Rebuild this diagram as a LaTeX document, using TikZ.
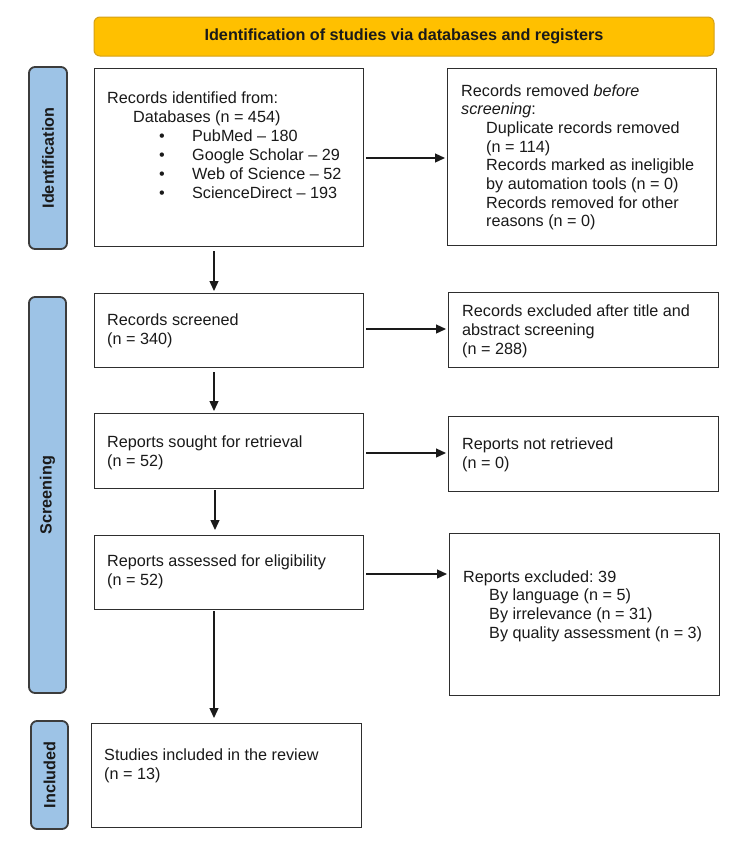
\documentclass[tikz,border=0pt]{standalone}
\usepackage{fontspec}
\setmainfont{Liberation Sans}
\usetikzlibrary{arrows.meta,calc}
\frenchspacing
\definecolor{hdrfill}{HTML}{FFC000}
\definecolor{hdrline}{HTML}{D4A017}
\definecolor{barfill}{HTML}{9DC3E6}
\definecolor{barline}{HTML}{3C3C3C}
\definecolor{boxline}{HTML}{2E2E2E}
\definecolor{ink}{HTML}{1A1A1A}
\newcommand{\tline}[1]{\hbox{#1}}
\newcommand{\tlines}[1]{\vtop{\baselineskip=19pt\lineskiplimit=-20pt\lineskip=0pt #1}}
\newcommand{\bul}[1]{\tline{\kern52pt\rlap{•}\kern33pt #1}}
\tikzset{
  box/.style={draw=boxline, line width=1.4pt, fill=white, inner sep=0pt, anchor=north west},
  bartag/.style={draw=barline, fill=barfill, line width=1.8pt, rounded corners=6pt, inner sep=0pt, rotate=90, text=ink, font=\bfseries\fontsize{16.2}{19}\selectfont},
  hdr/.style={draw=hdrline, fill=hdrfill, line width=1pt, rounded corners=6pt, inner sep=0pt, text=ink, font=\bfseries\fontsize{16.2}{19}\selectfont},
  txt/.style={anchor=base west, inner sep=0pt, font=\fontsize{16.2}{19}\selectfont\frenchspacing, text=ink},
  arr/.style={-{Triangle[length=10pt,width=9pt]}, line width=1.3pt, draw=ink}
}
\begin{document}
\begin{tikzpicture}[x=1pt,y=-1pt]
\useasboundingbox (0,0) rectangle (750,847);
% header
\node[hdr, minimum width=620pt, minimum height=39pt] (head) at (404,36.5) {Identification of studies via databases and registers};
% side bars
\node[bartag, minimum width=182pt, minimum height=38pt] (s1) at (48,158) {Identification};
\node[bartag, minimum width=396pt, minimum height=37pt] (s2) at (47.5,495) {Screening};
\node[bartag, minimum width=108pt, minimum height=37pt] (s3) at (49.5,775) {Included};
% boxes
\node[box, minimum width=269pt, minimum height=178pt] (b1) at (94,68) {};
\node[box, minimum width=269pt, minimum height=177pt] (b2) at (447,68) {};
\node[box, minimum width=269pt, minimum height=74pt] (b3) at (94,293) {};
\node[box, minimum width=270pt, minimum height=75pt] (b4) at (448,292) {};
\node[box, minimum width=269pt, minimum height=75pt] (b5) at (94,413) {};
\node[box, minimum width=270pt, minimum height=75pt] (b6) at (448,416) {};
\node[box, minimum width=269pt, minimum height=74pt] (b7) at (94,535) {};
\node[box, minimum width=270pt, minimum height=162pt] (b8) at (449,533) {};
\node[box, minimum width=270pt, minimum height=104pt] (b9) at (91,723) {};
% texts
\node[txt] (t1) at (107,103) {\tlines{%
  \tline{Records identified from:}%
  \tline{\kern26pt Databases (n = 454)}%
  \bul{PubMed – 180}%
  \bul{Google Scholar – 29}%
  \bul{Web of Science – 52}%
  \bul{ScienceDirect – 193}}};
\node[txt] (t2) at (461,96) {\tlines{\baselineskip=18.7pt
  \tline{Records removed \textit{before}}%
  \tline{\textit{screening}:}%
  \tline{\kern25pt Duplicate records removed}%
  \tline{\kern25pt (n = 114)}%
  \tline{\kern25pt Records marked as ineligible}%
  \tline{\kern25pt by automation tools (n = 0)}%
  \tline{\kern25pt Records removed for other}%
  \tline{\kern25pt reasons (n = 0)}}};
\node[txt] (t3) at (107,325) {\tlines{\tline{Records screened}\tline{(n = 340)}}};
\node[txt] (t4) at (462,316) {\tlines{\tline{Records excluded after title and}\tline{abstract screening}\tline{(n = 288)}}};
\node[txt] (t5) at (107,447) {\tlines{\tline{Reports sought for retrieval}\tline{(n = 52)}}};
\node[txt] (t6) at (462,449) {\tlines{\tline{Reports not retrieved}\tline{(n = 0)}}};
\node[txt] (t7) at (107,566) {\tlines{\tline{Reports assessed for eligibility}\tline{(n = 52)}}};
\node[txt] (t8) at (463,582) {\tlines{\baselineskip=18.7pt
  \tline{Reports excluded: 39}%
  \tline{\kern26pt By language (n = 5)}%
  \tline{\kern26pt By irrelevance (n = 31)}%
  \tline{\kern26pt By quality assessment (n = 3)}}};
\node[txt] (t9) at (104,760) {\tlines{\tline{Studies included in the review}\tline{(n = 13)}}};
% connectors
\draw[arr, shorten <=4pt, shorten >=2pt] (214,0 |- b1.south) -- (214,0 |- b3.north);
\draw[arr, shorten <=4pt, shorten >=2pt] (214,0 |- b3.south) -- (214,0 |- b5.north);
\draw[arr, shorten <=1pt, shorten >=5pt] (215,0 |- b5.south) -- (215,0 |- b7.north);
\draw[arr, shorten <=1pt, shorten >=5pt] (214,0 |- b7.south) -- (214,0 |- b9.north);
\draw[arr, shorten <=2pt, shorten >=2pt] (b1.east |- 0,158) -- (b2.west |- 0,158);
\draw[arr, shorten <=2pt, shorten >=2pt] (b3.east |- 0,329) -- (b4.west |- 0,329);
\draw[arr, shorten <=2pt, shorten >=2pt] (b5.east |- 0,453) -- (b6.west |- 0,453);
\draw[arr, shorten <=2pt, shorten >=2pt] (b7.east |- 0,574) -- (b8.west |- 0,574);
\end{tikzpicture}
\end{document}
